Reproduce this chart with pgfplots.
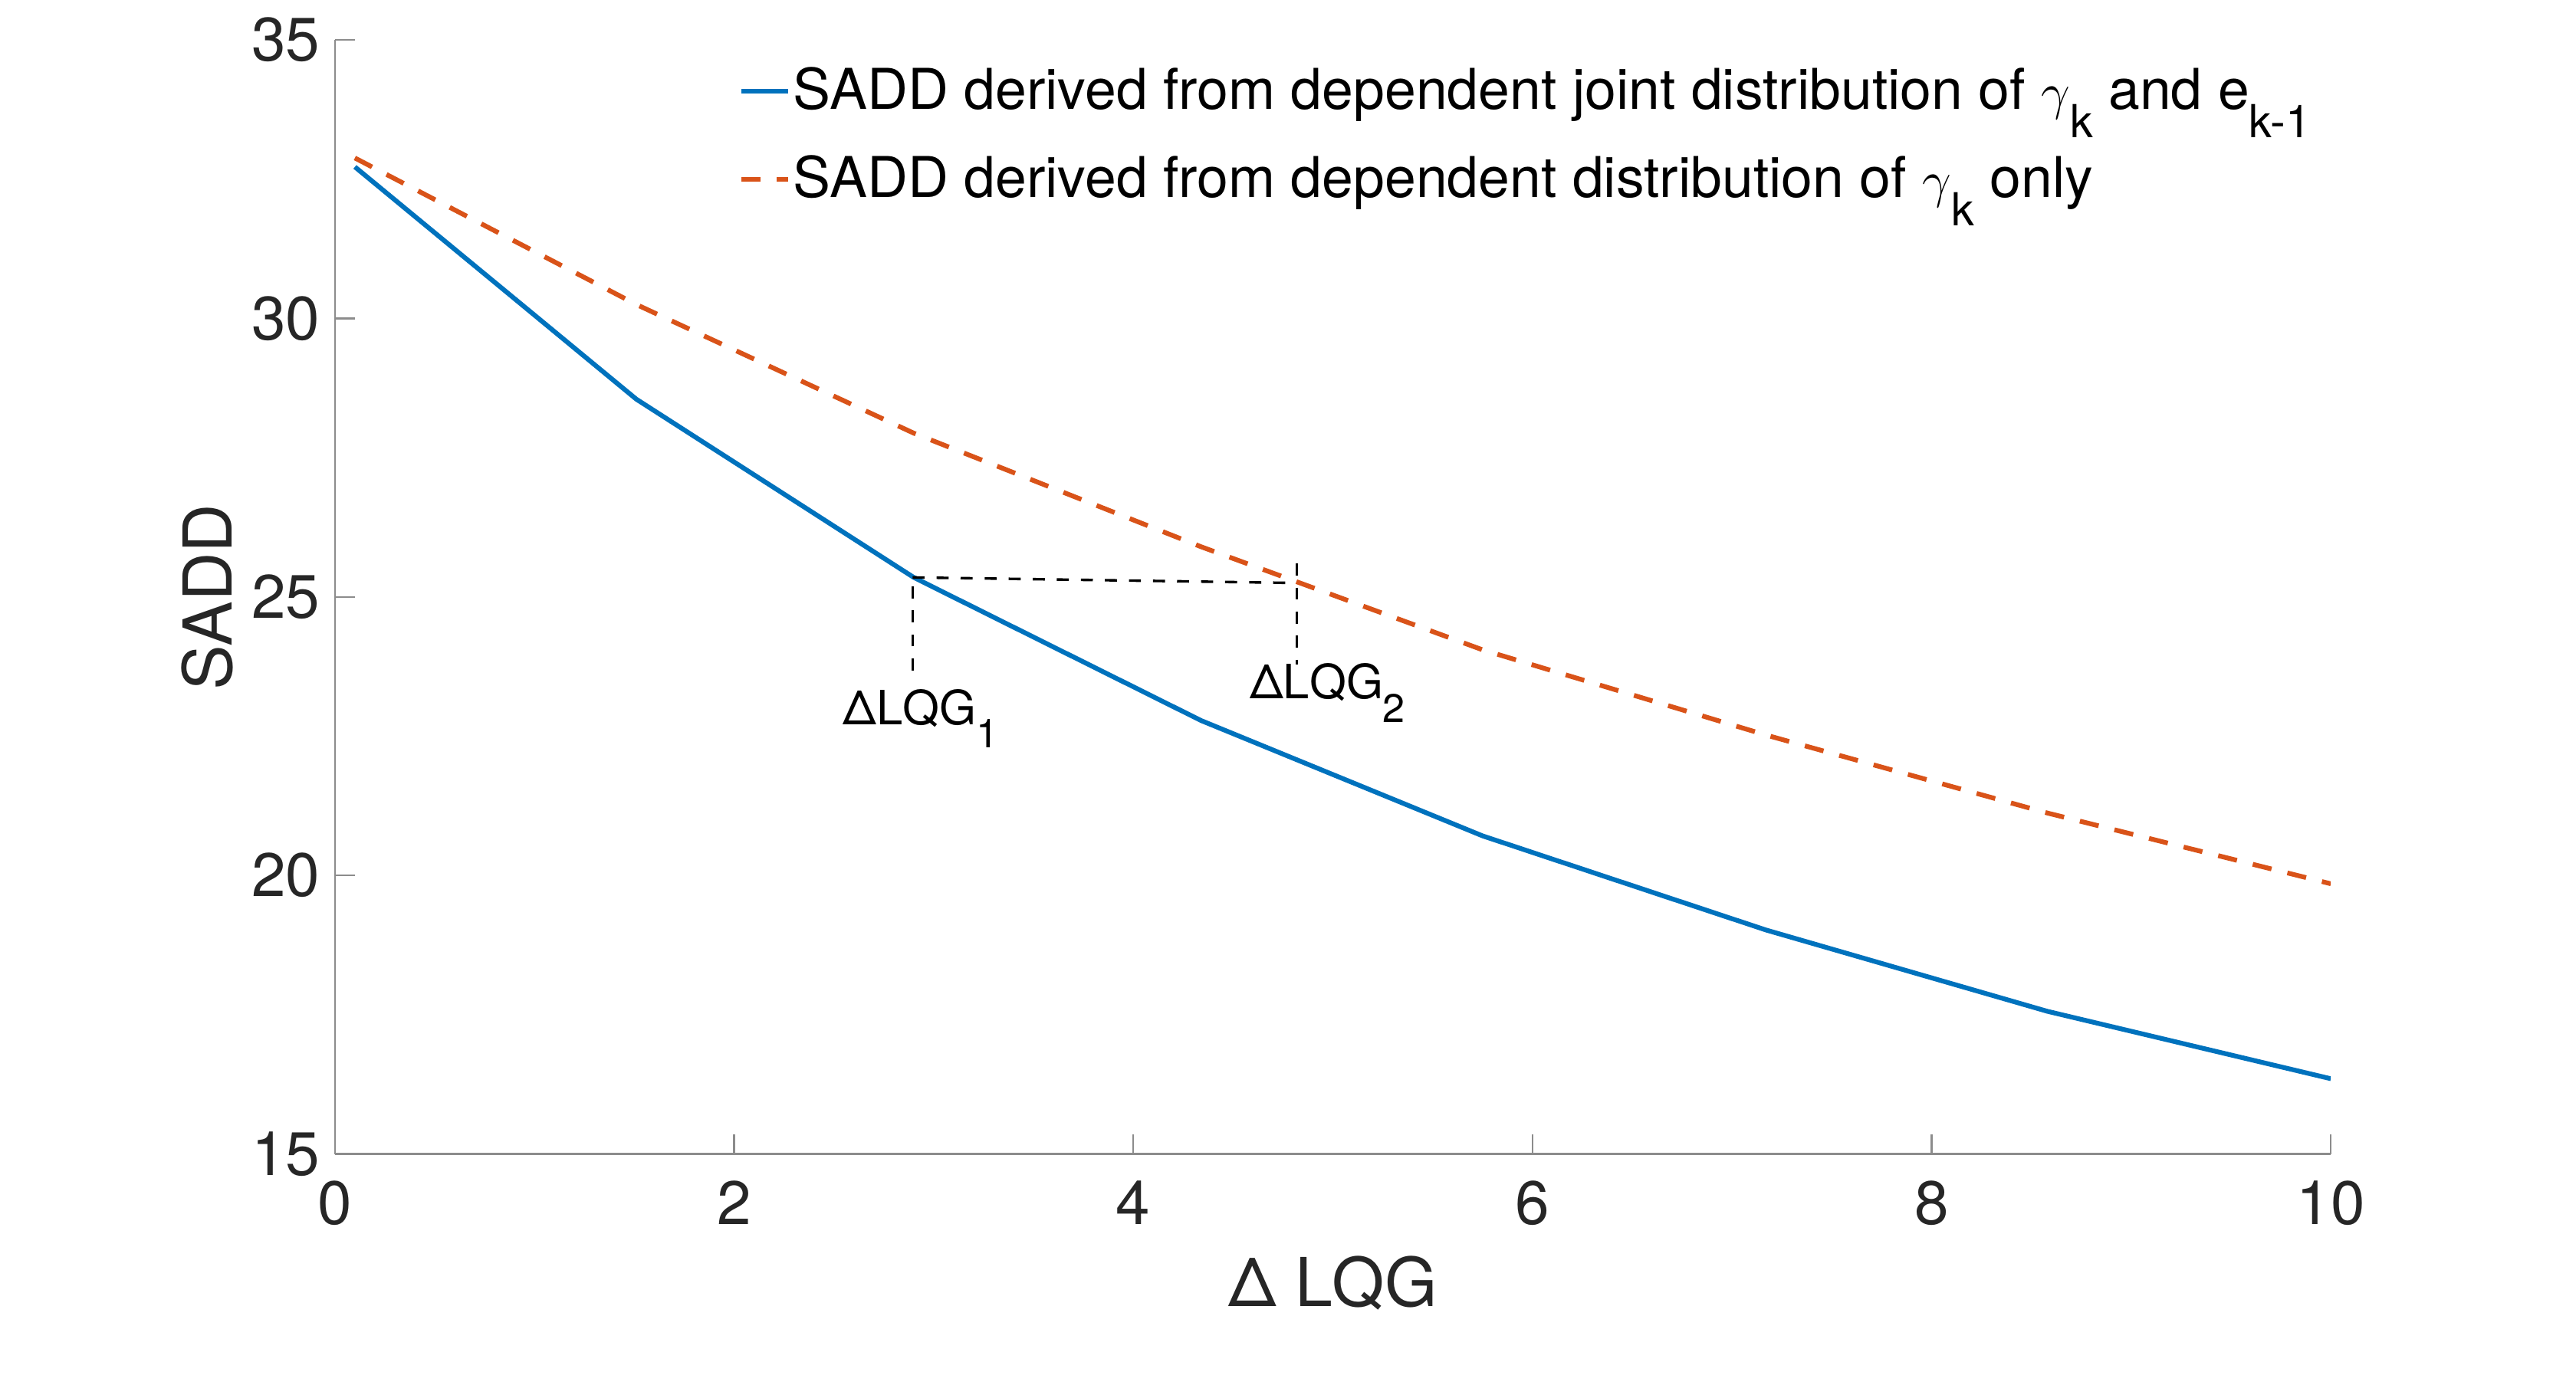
\documentclass[border=0pt]{standalone}
\usepackage{fontspec}
\setmainfont{TeX Gyre Heros}
\usepackage{pgfplots}
\pgfplotsset{compat=1.18}
\definecolor{mblue}{rgb}{0,0.447,0.741}
\definecolor{morange}{rgb}{0.85,0.325,0.098}
\definecolor{axgray}{rgb}{0.55,0.55,0.55}
\definecolor{txt}{rgb}{0.15,0.15,0.15}
\newcommand{\lsub}[1]{\raisebox{-6.6pt}{\fontsize{10.6}{12}\selectfont #1}}
\newcommand{\asub}[1]{\raisebox{-5.4pt}{\fontsize{9.3}{11}\selectfont #1}}
\begin{document}
\begin{tikzpicture}
\begin{axis}[
  at={(0,0)}, anchor=south west,
  width=464.8pt, height=259.5pt, scale only axis,
  xmin=0, xmax=10, ymin=15, ymax=35,
  axis x line*=bottom, axis y line*=left,
  xtick={0,2,4,6,8,10}, ytick={15,20,25,30,35},
  tick align=inside, major tick length=4.6pt,
  axis line style={axgray, line width=0.45pt},
  tick style={axgray, line width=0.45pt},
  /pgf/number format/assume math mode=true,
  tick label style={font=\fontsize{14.3}{16}\selectfont, text=txt},
  xticklabel style={yshift=-2.7pt},
  label style={font=\fontsize{15.7}{18}\selectfont, text=txt},
  xlabel={Δ LQG}, ylabel={SADD},
  xlabel style={at={(axis description cs:0.5,-0.116)}, anchor=center},
  ylabel style={at={(axis description cs:-0.064,0.5)}, anchor=center},
  legend cell align=left,
  legend image code/.code={\draw[#1] (0pt,0pt) -- (10.9pt,0pt);},
  legend style={draw=none, fill=none, inner sep=0pt,
    at={(axis description cs:0.202,0.979)}, anchor=north west,
    font=\fontsize{13.1}{15}\selectfont, text=black,
    nodes={inner sep=0.7pt}, row sep=7.8pt},
]
\addplot[mblue, line width=1.1pt] coordinates {
  (0.1,32.72) (1.51,28.55) (2.9,25.35) (4.34,22.78)
  (5.75,20.71) (7.17,19.02) (8.58,17.56) (10,16.35)};
\addlegendentry{SADD derived from dependent joint distribution of $\gamma$\lsub{k} and e\lsub{k-1}}
\addplot[morange, line width=1.1pt, dash pattern=on 4.5pt off 3.8pt] coordinates {
  (0.1,32.88) (1.51,30.25) (2.9,27.94) (4.34,25.9)
  (5.75,24.05) (7.17,22.52) (8.58,21.12) (10,19.85)};
\addlegendentry{SADD derived from dependent distribution of $\gamma$\lsub{k} only}
\addplot[black, line width=0.6pt, dash pattern=on 2.8pt off 2.8pt, forget plot] coordinates {(2.894,23.68) (2.894,25.35)};
\addplot[black, line width=0.6pt, dash pattern=on 2.8pt off 2.8pt, forget plot] coordinates {(2.894,25.35) (4.82,25.25)};
\addplot[black, line width=0.6pt, dash pattern=on 2.8pt off 2.8pt, forget plot] coordinates {(4.82,25.6) (4.82,23.79)};
\node[anchor=base west, inner sep=0pt, font=\fontsize{11}{13}\selectfont] at (axis cs:2.541,22.71) {ΔLQG\asub{1}};
\node[anchor=base west, inner sep=0pt, font=\fontsize{11}{13}\selectfont] at (axis cs:4.579,23.17) {ΔLQG\asub{2}};
\end{axis}
\pgfresetboundingbox
\path[use as bounding box] (-78pt,-53.75pt) rectangle (521.9pt,268.8pt);
\end{tikzpicture}
\end{document}
